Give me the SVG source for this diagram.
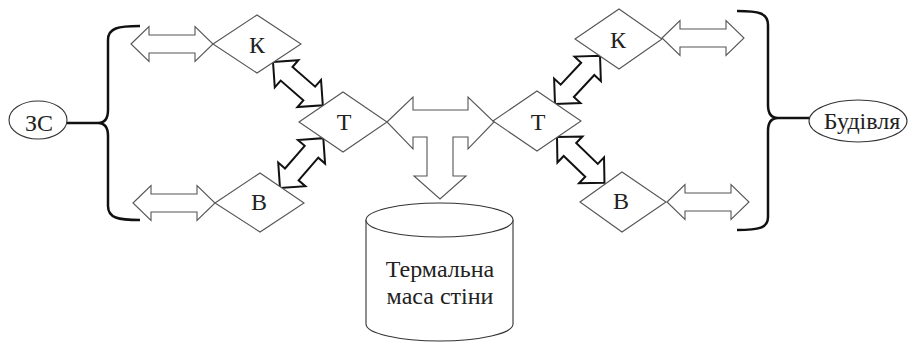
<svg xmlns="http://www.w3.org/2000/svg" xmlns:xlink="http://www.w3.org/1999/xlink" width="909" height="342" viewBox="0 0 909 342" font-family="'Liberation Serif', 'DejaVu Serif', serif">
<style>
  .dia { fill: #fff; stroke: #555; stroke-width: 1.1; }
  .harr { fill: #fff; stroke: #555; stroke-width: 1.1; stroke-linejoin: miter; }
  .darr { fill: #fff; stroke: #111; stroke-width: 2; stroke-linejoin: miter; }
  .brace { fill: none; stroke: #111; stroke-width: 2.5; }
  .ell { fill: #fff; stroke: #333; stroke-width: 1.1; }
  .cyl { fill: #fff; stroke: #333; stroke-width: 1.1; }
  .lbl { font-family: 'Liberation Serif', 'DejaVu Serif', serif; font-size: 24px; fill: #222; text-anchor: middle; }
</style>
<defs>
  <polygon id="dh" points="0,0 18,-17.5 18,-9 64,-9 64,-17.5 82,0 64,17.5 64,9 18,9 18,17.5"/>
  <polygon id="dd" points="0,0 18,-18 18,-9 48,-9 48,-18 66,0 48,18 48,9 18,9 18,18"/>
</defs>

<g id="connectors">
  <use xlink:href="#dh" class="harr" transform="translate(131,44)"/>
  <use xlink:href="#dh" class="harr" transform="translate(133,203)"/>
  <use xlink:href="#dh" class="harr" transform="translate(662,38)"/>
  <use xlink:href="#dh" class="harr" transform="translate(667,202)"/>
  <use xlink:href="#dd" class="darr" transform="translate(273,62) rotate(41)"/>
  <use xlink:href="#dd" class="darr" transform="translate(280,188) rotate(-49)"/>
  <use xlink:href="#dd" class="darr" transform="translate(555,104) rotate(-47)"/>
  <use xlink:href="#dd" class="darr" transform="translate(557,137) rotate(44)"/>
  <polygon class="harr" points="387,122 413,97 413,110 468,110 468,97 494,122 468,149 468,137 453,137 453,176 466,176 440,199 414,176 427,176 427,137 413,137 413,149"/>
  <path class="brace" d="M140,26 C118,26 108,28 108,40 L108,110 C108,119 104,123 98,123 C104,123 108,127 108,136 L108,206 C108,218 118,220 140,220"/>
  <line class="brace" x1="67" y1="123" x2="98" y2="123"/>
  <path class="brace" d="M737,11 C759,11 768,13 768,25 L768,105 C768,114 772,118 778,118 C772,118 768,122 768,131 L768,217 C768,228 759,230 737,230"/>
  <line class="brace" x1="778" y1="118" x2="810" y2="118"/>
</g>

<g id="zs">
  <ellipse class="ell" cx="38" cy="120" rx="29" ry="19"/>
  <text class="lbl" x="39" y="131">ЗС</text>
</g>
<g id="budivlia">
  <ellipse class="ell" cx="858" cy="121" rx="49" ry="21"/>
  <text class="lbl" x="862" y="129">Будівля</text>
</g>

<g id="k-left">
  <polygon class="dia" points="213,44 257,15 301,44 257,73"/>
  <text class="lbl" x="257" y="53">К</text>
</g>
<g id="b-left">
  <polygon class="dia" points="215,203 260,173 304,203 260,232"/>
  <text class="lbl" x="259" y="210">В</text>
</g>
<g id="t-left">
  <polygon class="dia" points="299,122 343,92 387,122 343,152"/>
  <text class="lbl" x="344" y="130">Т</text>
</g>
<g id="t-right">
  <polygon class="dia" points="493,121 537,91 581,121 537,151"/>
  <text class="lbl" x="538" y="130">Т</text>
</g>
<g id="k-right">
  <polygon class="dia" points="575,39 619,9 662,39 619,69"/>
  <text class="lbl" x="618" y="48">К</text>
</g>
<g id="b-right">
  <polygon class="dia" points="580,202 622,172 666,202 622,232"/>
  <text class="lbl" x="621" y="209">В</text>
</g>

<g id="mass">
  <path class="cyl" d="M366,220 L366,324 A73.5,17 0 0 0 513,324 L513,220"/>
  <ellipse class="cyl" cx="439.5" cy="220" rx="73.5" ry="17"/>
  <text class="lbl" x="440" y="277">Термальна</text>
  <text class="lbl" x="440" y="304">маса стіни</text>
</g>
</svg>
